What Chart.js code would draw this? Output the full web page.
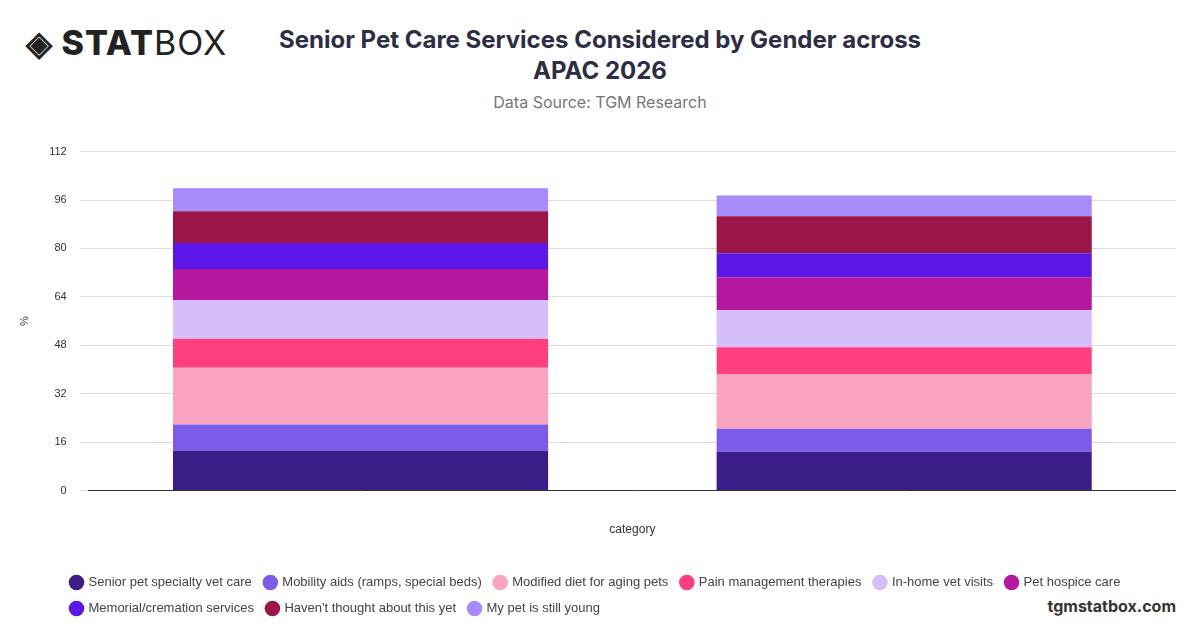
<!DOCTYPE html>
<html>
<head>
<meta charset="utf-8">
<script src="https://cdn.jsdelivr.net/npm/chart.js@4"></script>
<style>
  body { margin: 0; width: 1200px; height: 628px; background: #fff; font-family: Inter, "Noto Sans", sans-serif; position: relative; overflow: hidden; }
  .logo { position: absolute; left: 26px; top: 22px; font-size: 34px; font-weight: 800; color: #222; letter-spacing: 1px; }
  .logo span { font-weight: 400; }
  .title { position: absolute; left: 250px; width: 700px; top: 24px; text-align: center; font-size: 24px; font-weight: 700; color: #2d2d44; line-height: 31px; }
  .sub { position: absolute; left: 250px; width: 700px; top: 92px; text-align: center; font-size: 16px; color: #777; }
  .brand { position: absolute; right: 24px; bottom: 12px; font-size: 16px; font-weight: 700; color: #333; }
  .wrap { position: absolute; left: 14px; top: 131px; width: 1162px; height: 494px; }
</style>
</head>
<body>
<div class="logo">◈ STAT<span>BOX</span></div>
<div class="title">Senior Pet Care Services Considered by Gender across<br>APAC 2026</div>
<div class="sub">Data Source: TGM Research</div>
<div class="brand">tgmstatbox.com</div>
<div class="wrap"><canvas id="c"></canvas></div>
<script>
const categories = ["Female", "Male"];
const seriesNames = [
  "Senior pet specialty vet care", "Mobility aids (ramps, special beds)", "Modified diet for aging pets",
  "Pain management therapies", "In-home vet visits", "Pet hospice care",
  "Memorial/cremation services", "Haven't thought about this yet", "My pet is still young"
];
const seriesColors = ["#3a1d87", "#7b5ce8", "#fba3c3", "#ff3f7e", "#d6befb", "#b5179e", "#5c16e8", "#9c1548", "#a78bfa"];
const seriesValues = [
  [13.2, 12.8],
  [8.6, 7.6],
  [18.8, 18.1],
  [9.6, 8.9],
  [12.8, 12.2],
  [10.2, 10.9],
  [8.6, 7.9],
  [10.5, 12.2],
  [7.6, 6.9]
];
const yTicks = [0, 16, 32, 48, 64, 80, 96, 112];

// nudge the legend block to the right, like the original
const shiftLegend = {
  id: "shiftLegend",
  afterLayout(chart) {
    chart.legend.left += 44;
    chart.legend.right += 44;
  }
};

new Chart(document.getElementById("c"), {
  type: "bar",
  data: {
    labels: categories,
    datasets: seriesNames.map((name, i) => ({
      label: name,
      data: seriesValues[i],
      backgroundColor: seriesColors[i],
      categoryPercentage: 0.69,
      barPercentage: 1
    }))
  },
  plugins: [shiftLegend],
  options: {
    responsive: true,
    maintainAspectRatio: false,
    animation: false,
    plugins: {
      legend: {
        position: "bottom",
        align: "start",
        labels: { usePointStyle: true, pointStyle: "circle", boxWidth: 11, boxHeight: 11, padding: 13, color: "#444", font: { size: 13 } }
      },
      tooltip: { enabled: false }
    },
    scales: {
      x: {
        stacked: true,
        grid: { display: false },
        border: { color: "#333" },
        ticks: { display: false },
        title: { display: true, text: "category", color: "#333", font: { size: 12 }, padding: { top: 24, bottom: 26 } }
      },
      y: {
        stacked: true,
        min: 0,
        max: 112,
        afterBuildTicks: (ax) => { ax.ticks = yTicks.map(v => ({ value: v })); },
        grid: { color: "#ddd" },
        border: { display: false },
        ticks: { color: "#333", font: { size: 11 }, padding: 14 },
        title: { display: true, text: "%", color: "#333", font: { size: 11 } }
      }
    }
  }
});
</script>
</body>
</html>
